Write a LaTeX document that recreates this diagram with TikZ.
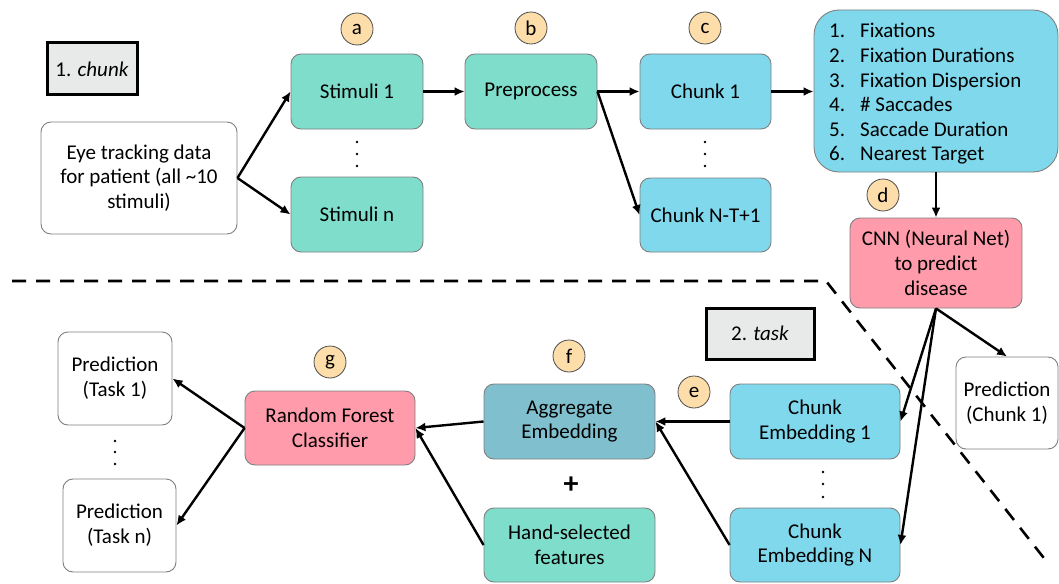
\documentclass[tikz,border=0pt]{standalone}
\usepackage{fontspec}
\setmainfont{Carlito}
\usetikzlibrary{arrows.meta}
\definecolor{tealbox}{HTML}{7FDDCC}
\definecolor{bluebox}{HTML}{7FD8EC}
\definecolor{aggbox}{HTML}{7FBFCE}
\definecolor{pinkbox}{HTML}{FF9BAA}
\definecolor{peach}{HTML}{FDDEAA}
\definecolor{sectgray}{HTML}{E8E9E9}
\definecolor{bordergray}{HTML}{7F7F7F}
\begin{document}
\begin{tikzpicture}[x=1pt,y=-1pt,
  box/.style={draw=bordergray, line width=0.9pt, rounded corners=10pt, align=center, inner sep=0pt, font=\fontsize{21}{24.8}\selectfont},
  lab/.style={circle, draw=black!70, line width=0.8pt, fill=peach, minimum size=32pt, inner sep=0pt, font=\fontsize{21}{24}\selectfont},
  sect/.style={draw=black, line width=3pt, fill=sectgray, inner sep=0pt, align=center, font=\fontsize{21}{25}\selectfont},
  arr/.style={line width=2.4pt, -{Latex[length=10pt,width=9pt]}},
  sep/.style={line width=2.6pt, dash pattern=on 14pt off 10pt}
]
\useasboundingbox (0,0) rectangle (1059,583);

% separator
\draw[sep] (12,281) -- (826,281) -- (1047,562);

% section labels
\node[sect, minimum width=90pt, minimum height=52pt] (chunklab) at (92,69) {1. \textit{chunk}};
\node[sect, minimum width=108pt, minimum height=51pt] (tasklab) at (760,333.5) {2. \textit{task}};

% top row
\node[box, fill=white, minimum width=196pt, minimum height=112pt] (eye) at (139,178) {Eye tracking data\\for patient (all \textasciitilde10\\stimuli)};
\node[box, fill=tealbox, minimum width=132pt, minimum height=75pt] (s1) at (357,91.5) {Stimuli 1};
\node[box, fill=tealbox, minimum width=132pt, minimum height=75pt] (sn) at (357,214.5) {Stimuli n};
\node[box, fill=tealbox, minimum width=132pt, minimum height=75pt] (pre) at (531,91.5) {Preprocess};
\node[box, fill=bluebox, minimum width=131pt, minimum height=75pt] (c1) at (705.5,91.5) {Chunk 1};
\node[box, fill=bluebox, minimum width=131pt, minimum height=74pt] (cn) at (705.5,215) {Chunk N-T+1};
\node[box, fill=bluebox, rounded corners=25pt, minimum width=244pt, minimum height=162pt] (feat) at (936,91) {};
\node[anchor=west, align=left, inner sep=0pt, font=\fontsize{21}{24.6}\selectfont] (featlist) at (829,94)
  {\makebox[31pt][l]{1.}Fixations\\
   \makebox[31pt][l]{2.}Fixation Durations\\
   \makebox[31pt][l]{3.}Fixation Dispersion\\
   \makebox[31pt][l]{4.}\# Saccades\\
   \makebox[31pt][l]{5.}Saccade Duration\\
   \makebox[31pt][l]{6.}Nearest Target};
\node[box, fill=pinkbox, minimum width=172pt, minimum height=90pt] (cnn) at (936,263) {CNN (Neural Net)\\to predict\\disease};

% bottom row
\node[box, fill=white, minimum width=102pt, minimum height=92pt] (pc1) at (1007,403) {Prediction\\(Chunk 1)};
\node[box, fill=bluebox, minimum width=170pt, minimum height=75pt] (ce1) at (815,421.5) {Chunk\\Embedding 1};
\node[box, fill=bluebox, minimum width=170pt, minimum height=74pt] (cen) at (815,545) {Chunk\\Embedding N};
\node[box, fill=aggbox, minimum width=171pt, minimum height=75pt] (agg) at (569.5,421.5) {Aggregate\\Embedding};
\node[box, fill=tealbox, minimum width=171pt, minimum height=74pt] (hand) at (569.5,545) {Hand-selected\\features};
\node[font=\fontsize{30}{30}\selectfont\bfseries] (plus) at (571,485) {+};
\node[box, fill=pinkbox, minimum width=170pt, minimum height=74pt] (rfc) at (330,428) {Random Forest\\Classifier};
\node[box, fill=white, minimum width=114pt, minimum height=93pt] (pt1) at (115,378.5) {Prediction\\(Task 1)};
\node[box, fill=white, minimum width=113pt, minimum height=93pt] (ptn) at (119.5,525.5) {Prediction\\(Task n)};

% letter labels
\node[lab] (la) at (357,29) {a};
\node[lab] (lb) at (531,28) {b};
\node[lab] (lc) at (705,28) {c};
\node[lab] (ld) at (883,195) {d};
\node[lab] (le) at (694,392) {e};
\node[lab] (lf) at (569,356) {f};
\node[lab] (lg) at (330,362) {g};

% vertical dots
\foreach \x/\ya/\yb/\yc in {357/142/154/166, 705/142/154/166, 115/441/452/464, 823/472/484/497}{
  \fill (\x,\ya) circle (1.3pt) (\x,\yb) circle (1.3pt) (\x,\yc) circle (1.3pt);
}

% arrows
\draw[arr] (eye.east) -- (s1.west);
\draw[arr] (eye.east) -- (sn.west);
\draw[arr] (s1.east) -- (pre.west);
\draw[arr] (pre.east) -- (c1.west);
\draw[arr] (pre.east) -- (cn.west);
\draw[arr] (c1.east) -- (feat.west |- c1.east);
\draw[arr] (feat.south) -- (cnn.north);
\draw[arr] (cnn.south) -- (pc1.north);
\draw[arr] (cnn.south) -- (ce1.east);
\draw[arr] (cnn.south) -- (cen.east);
\draw[arr] (ce1.west) -- (agg.east);
\draw[arr] (cen.west) -- (agg.east);
\draw[arr] (agg.west) -- (rfc.east);
\draw[arr] (hand.west) -- (rfc.east);
\draw[arr] (rfc.west) -- (pt1.east);
\draw[arr] (rfc.west) -- (ptn.east);
\end{tikzpicture}
\end{document}
